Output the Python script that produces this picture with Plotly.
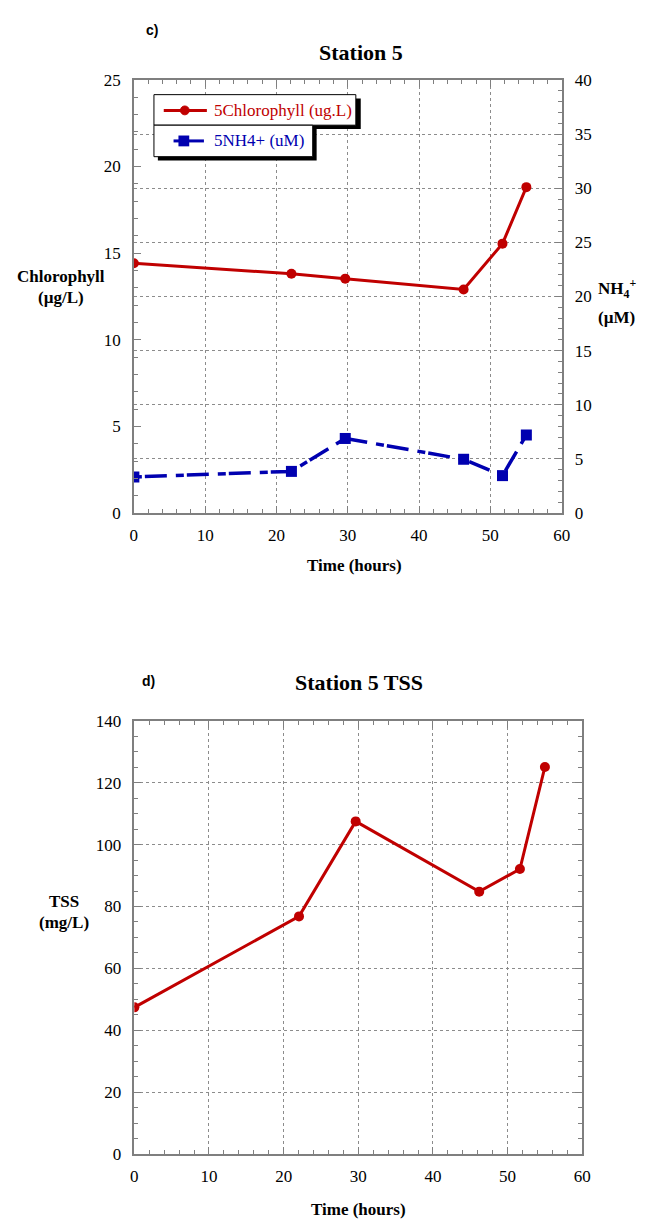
import plotly.graph_objects as go

# ---- data -------------------------------------------------------------
hours = [0, 22.1, 29.65, 46.25, 51.7, 55.05]
chlorophyll = [14.42, 13.81, 13.53, 12.9, 15.55, 18.81]      # ug/L
nh4 = [3.34, 3.85, 6.89, 4.97, 3.46, 7.22]                   # uM

tss_hours = [0, 22.06, 29.65, 46.2, 51.65, 55.0]
tss = [47.4, 76.8, 107.5, 84.8, 92.1, 125.1]                 # mg/L

x_ticks = [0, 10, 20, 30, 40, 50, 60]

# ---- page geometry (pixels) --------------------------------------------
W, H = 652, 1230
RED = "#C00000"
BLUE = "#0000B0"
GRAY = "#7f7f7f"
SERIF = "Liberation Serif"


def px(x):
    return x / W


def py(y):
    return 1 - y / H


fig = go.Figure()

fig.add_trace(go.Scatter(
    x=hours, y=chlorophyll, xaxis="x", yaxis="y", mode="lines+markers",
    line=dict(color=RED, width=3),
    marker=dict(symbol="circle", size=10, color=RED),
    name="5Chlorophyll (ug.L)", showlegend=False))

fig.add_trace(go.Scatter(
    x=hours, y=nh4, xaxis="x", yaxis="y2", mode="lines+markers",
    line=dict(color=BLUE, width=3.5, dash="8px,3px,22px,9px"),
    marker=dict(symbol="square", size=11, color=BLUE),
    name="5NH4+ (uM)", showlegend=False))

fig.add_trace(go.Scatter(
    x=tss_hours, y=tss, xaxis="x2", yaxis="y3", mode="lines+markers",
    line=dict(color=RED, width=3),
    marker=dict(symbol="circle", size=10, color=RED),
    name="TSS", showlegend=False))

tickfont = dict(family=SERIF, size=17, color="black")
grid = dict(showgrid=True, gridcolor="#8c8c8c", griddash="dot", gridwidth=1)
line = dict(showline=True, linecolor=GRAY, linewidth=1.5, zeroline=False,
            ticks="inside", tickcolor=GRAY, tickwidth=1, tickfont=tickfont)


def minor(step):
    return dict(dtick=step, ticks="inside", ticklen=4, tickcolor=GRAY,
                tickwidth=1, showgrid=False)


top_x = [px(132.5), px(569)]
top_y = [py(512), py(72)]
bot_x = [px(133), px(590)]
bot_y = [py(1163), py(723)]

fig.update_layout(
    width=W, height=H, autosize=False,
    margin=dict(l=0, r=0, t=0, b=0),
    font=dict(family=SERIF, size=17, color="black"),
    paper_bgcolor="white", plot_bgcolor="white",
    xaxis=dict(domain=top_x, anchor="y", range=[0, 60], tickvals=x_ticks,
               ticklen=7, minor=minor(2), mirror="ticks",
               ticklabelstandoff=6, **grid, **line),
    yaxis=dict(domain=top_y, anchor="x", range=[0, 25], dtick=5,
               ticklen=7, minor=minor(1), showgrid=False,
               ticklabelstandoff=8, **line),
    yaxis2=dict(anchor="x", overlaying="y", side="right", range=[0, 40],
                dtick=5, ticklen=7, minor=minor(1),
                ticklabelstandoff=8, **grid, **line),
    xaxis2=dict(domain=bot_x, anchor="y3", range=[0, 60], tickvals=x_ticks,
                ticklen=7, minor=minor(2), mirror="ticks",
                ticklabelstandoff=6, **grid, **line),
    yaxis3=dict(domain=bot_y, anchor="x2", range=[0, 140], dtick=20,
                ticklen=7, minor=minor(5), mirror="ticks",
                ticklabelstandoff=8, **grid, **line),
)

# ---- titles and axis labels ---------------------------------------------
def label(text, x, y, size=17, family=SERIF, color="black",
          xanchor="center"):
    fig.add_annotation(text=text, x=px(x), y=py(y), xref="paper",
                       yref="paper", showarrow=False, xanchor=xanchor,
                       yanchor="middle", align="center",
                       font=dict(family=family, size=size, color=color))


label("<b>c)</b>", 151, 21, size=14, family="Liberation Sans")
label("<b>Station 5</b>", 364, 44, size=22)
label("<b>Chlorophyll</b>", 58, 272)
label("<b>(µg/L)</b>", 58, 293)
label("<b>NH<sub>4</sub><sup>+</sup></b>", 625, 284)
label("<b>(µM)</b>", 625, 313)
label("<b>Time (hours)</b>", 358, 565)

label("<b>d)</b>", 147, 683, size=14, family="Liberation Sans")
label("<b>Station 5 TSS</b>", 362, 684, size=22)
label("<b>TSS</b>", 61, 907)
label("<b>(mg/L)</b>", 61, 928)
label("<b>Time (hours)</b>", 362, 1219)

# ---- boxed legend with drop shadow ---------------------------------------
def rect(x0, y0, x1, y1, fill, border=None):
    fig.add_shape(type="rect", xref="paper", yref="paper",
                  x0=px(x0), x1=px(x1), y0=py(y1), y1=py(y0),
                  fillcolor=fill,
                  line=dict(color=border or fill, width=1 if border else 0))


rect(157, 91, 364, 122, "black")
rect(157, 121, 319, 154, "black")
rect(153, 87, 359, 118, "white", "black")
rect(153, 118, 315, 150, "white", "black")

fig.add_shape(type="line", xref="paper", yref="paper",
              x0=px(163), x1=px(207), y0=py(103), y1=py(103),
              line=dict(color=RED, width=3))
fig.add_shape(type="circle", xref="paper", yref="paper",
              x0=px(180), x1=px(189), y0=py(107.5), y1=py(98.5),
              fillcolor=RED, line=dict(color=RED, width=1))
fig.add_shape(type="line", xref="paper", yref="paper",
              x0=px(173), x1=px(204), y0=py(134), y1=py(134),
              line=dict(color=BLUE, width=3))
fig.add_shape(type="rect", xref="paper", yref="paper",
              x0=px(178), x1=px(189), y0=py(139.5), y1=py(128.5),
              fillcolor=BLUE, line=dict(color=BLUE, width=0))

label("5Chlorophyll (ug.L)", 212, 103, color=RED, xanchor="left")
label("5NH4+ (uM)", 212, 134, color=BLUE, xanchor="left")

fig.write_html("out.html")
